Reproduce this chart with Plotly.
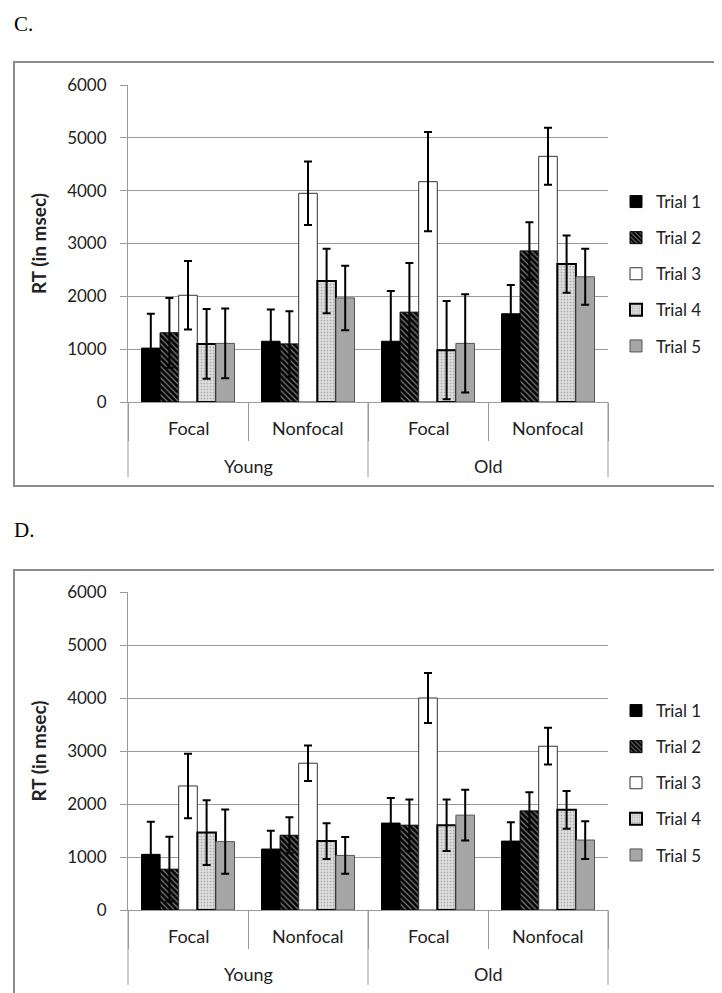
import plotly.graph_objects as go

# ---------------- data ----------------
groups = ["Young", "Young", "Old", "Old"]
conditions = ["Focal", "Nonfocal", "Focal", "Nonfocal"]
trials = ["Trial 1", "Trial 2", "Trial 3", "Trial 4", "Trial 5"]
y_ticks = [0, 1000, 2000, 3000, 4000, 5000, 6000]

# Panel C
c_t1 = [1020, 1150, 1150, 1670]
c_t2 = [1310, 1100, 1700, 2860]
c_t3 = [2020, 3950, 4170, 4650]
c_t4 = [1100, 2290, 980, 2610]
c_t5 = [1110, 1970, 1110, 2370]
c_e1 = [650, 600, 950, 545]
c_e2 = [660, 620, 930, 540]
c_e3 = [650, 600, 940, 540]
c_e4 = [660, 610, 930, 540]
c_e5 = [660, 610, 930, 530]

# Panel D
d_t1 = [1050, 1150, 1640, 1300]
d_t2 = [770, 1410, 1600, 1870]
d_t3 = [2340, 2770, 4000, 3090]
d_t4 = [1460, 1300, 1600, 1890]
d_t5 = [1290, 1030, 1790, 1320]
d_e1 = [615, 345, 475, 358]
d_e2 = [610, 340, 485, 350]
d_e3 = [607, 336, 470, 347]
d_e4 = [610, 337, 485, 356]
d_e5 = [607, 346, 480, 356]

# ---------------- layout helpers ----------------
W, H = 722, 993
ML, MR, MT, MB = 120, 122, 77, 91
FONT = "Lato"
GRID = "#9a9a9a"
TXT = "#222222"


def px_x(px):
    return (px - ML) / (W - ML - MR)


def px_y(py):
    return (H - MB - py) / (H - MT - MB)


cat_keys = [g + " " + c for g, c in zip(groups, conditions)]

styles = [
    dict(color="black", line=dict(color="black", width=1)),
    dict(color="black", line=dict(color="black", width=1),
         pattern=dict(shape="\\", fgcolor="white", bgcolor="black", size=4, solidity=0.3)),
    dict(color="white", line=dict(color="#333333", width=1)),
    dict(color="#dddddd", line=dict(color="black", width=2),
         pattern=dict(shape=".", fgcolor="#777777", bgcolor="#e2e2e2", size=3, solidity=0.3)),
    dict(color="#a6a6a6", line=dict(color="#555555", width=1)),
]

panels = [
    ("x", "y", "legend", [c_t1, c_t2, c_t3, c_t4, c_t5], [c_e1, c_e2, c_e3, c_e4, c_e5], 394),
    ("x2", "y2", "legend2", [d_t1, d_t2, d_t3, d_t4, d_t5], [d_e1, d_e2, d_e3, d_e4, d_e5], 902),
]

fig = go.Figure()
shapes = []
annotations = []
for xa, ya, lg, means, errs, base in panels:
    for i, name in enumerate(trials):
        fig.add_trace(go.Bar(
            x=cat_keys, y=means[i], name=name,
            xaxis=xa, yaxis=ya, legend=lg, legendgroup=lg + str(i),
            marker=styles[i],
            error_y=dict(type="data", array=errs[i], visible=True,
                         color="black", thickness=2, width=4),
        ))
    # inner-level category labels
    for k, cond in enumerate(conditions):
        annotations.append(dict(
            text=cond, xref=xa, yref="paper", x=k, y=px_y(base + 26),
            yanchor="middle", showarrow=False,
            font=dict(family=FONT, size=18, color=TXT)))
    # outer-group labels and long dividers
    n = len(groups)
    bounds = [0] + [k for k in range(1, n) if groups[k] != groups[k - 1]] + [n]
    for a, b in zip(bounds[:-1], bounds[1:]):
        annotations.append(dict(
            text=groups[a], xref=xa, yref="paper", x=(a + b - 1) / 2,
            y=px_y(base + 64), yanchor="middle", showarrow=False,
            font=dict(family=FONT, size=18, color=TXT)))
    for k in bounds:
        shapes.append(dict(type="line", xref="paper", yref="paper",
                           x0=k / n, x1=k / n, y0=px_y(base), y1=px_y(base + 75),
                           line=dict(color=GRID, width=1)))

xcommon = dict(
    type="category", tickvals=cat_keys, showticklabels=False,
    showline=True, linecolor=GRID, linewidth=1,
    ticks="outside", tickson="boundaries", ticklen=38, tickcolor=GRID, tickwidth=1,
    showgrid=False, automargin=False, fixedrange=True,
)
ycommon = dict(
    range=[0, 6000], tickvals=y_ticks, showgrid=True, gridcolor=GRID, gridwidth=1,
    showline=True, linecolor=GRID, linewidth=1, ticks="outside", ticklen=7,
    tickcolor=GRID, ticklabelstandoff=10,
    tickfont=dict(family=FONT, size=17, color=TXT),
    title=dict(text="<b>RT (in msec)</b>", font=dict(family=FONT, size=19, color=TXT)),
    zeroline=False, automargin=False, fixedrange=True,
)

legcommon = dict(
    xanchor="left", yanchor="middle", traceorder="grouped", tracegroupgap=11,
    font=dict(family=FONT, size=17, color=TXT), bgcolor="rgba(0,0,0,0)",
    itemclick=False, itemdoubleclick=False,
)

shapes += [
    dict(type="rect", xref="paper", yref="paper",
         x0=px_x(6), x1=px_x(716), y0=px_y(478), y1=px_y(54),
         line=dict(color="#8c8c8c", width=2), layer="below"),
    dict(type="rect", xref="paper", yref="paper",
         x0=px_x(6), x1=px_x(716), y0=px_y(987), y1=px_y(562),
         line=dict(color="#8c8c8c", width=2), layer="below"),
]
annotations += [
    dict(text="C.", xref="paper", yref="paper", x=px_x(4), y=px_y(16),
         xanchor="left", yanchor="middle", showarrow=False,
         font=dict(family="Liberation Serif", size=21, color="black")),
    dict(text="D.", xref="paper", yref="paper", x=px_x(4), y=px_y(522),
         xanchor="left", yanchor="middle", showarrow=False,
         font=dict(family="Liberation Serif", size=21, color="black")),
]

fig.update_layout(
    width=W, height=H,
    margin=dict(l=ML, r=MR, t=MT, b=MB),
    paper_bgcolor="white", plot_bgcolor="white",
    barmode="group", bargap=0.225, bargroupgap=0,
    xaxis=dict(domain=[0, 1], anchor="y", **xcommon),
    yaxis=dict(domain=[px_y(394), px_y(77)], anchor="x", **ycommon),
    xaxis2=dict(domain=[0, 1], anchor="y2", **xcommon),
    yaxis2=dict(domain=[px_y(902), px_y(584)], anchor="x2", **ycommon),
    legend=dict(x=px_x(608), y=px_y(266), **legcommon),
    legend2=dict(x=px_x(608), y=px_y(775), **legcommon),
    shapes=shapes,
    annotations=annotations,
)

fig.write_html("out.html")
